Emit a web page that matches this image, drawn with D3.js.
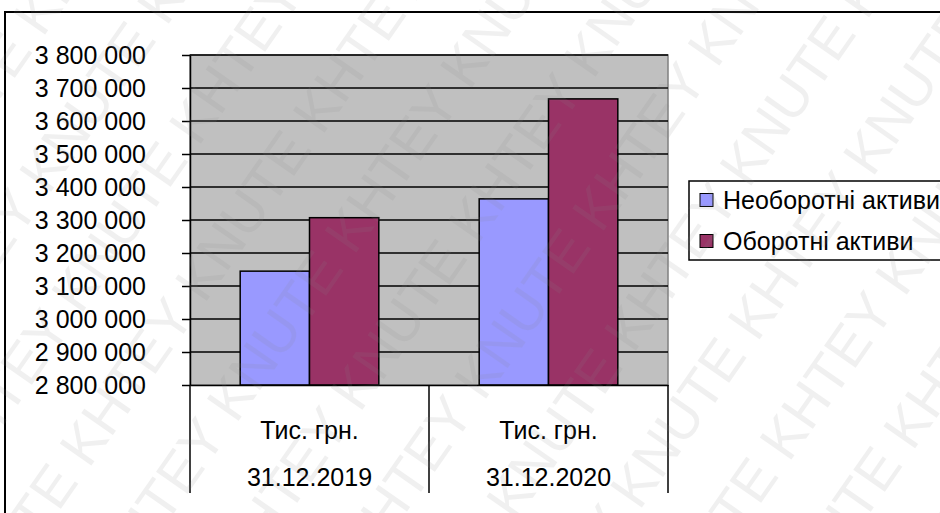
<!DOCTYPE html>
<html>
<head>
<meta charset="utf-8">
<script src="https://cdn.jsdelivr.net/npm/d3@7"></script>
<style>
  body { margin: 0; background: #fff; }
  svg text { font-family: "Liberation Sans", Arial, sans-serif; }
</style>
</head>
<body>
<div id="chart"></div>
<script>
(function() {
  // data (тис. грн.)
  var dates = ["31.12.2019", "31.12.2020"];
  var unitLabels = ["Тис. грн.", "Тис. грн."];
  var seriesNames = ["Необоротні активи", "Оборотні активи"];
  var nonCurrent = [3145000, 3364000];
  var current = [3307000, 3667000];
  var seriesColors = ["#9999ff", "#993366"];
  var yTicks = [2800000, 2900000, 3000000, 3100000, 3200000, 3300000,
                3400000, 3500000, 3600000, 3700000, 3800000];

  var W = 940, H = 513;
  var plot = { left: 190, top: 55, right: 668, bottom: 385 };

  var svg = d3.select("#chart").append("svg")
    .attr("width", W)
    .attr("height", H);

  // chart area border (runs off the right and bottom edges)
  svg.append("rect")
    .attr("x", 5).attr("y", 12)
    .attr("width", W + 20).attr("height", H + 20)
    .attr("fill", "#fff")
    .attr("stroke", "#000")
    .attr("stroke-width", 2);

  var rows = dates.map(function(d, i) {
    return { date: d, unit: unitLabels[i], values: [nonCurrent[i], current[i]] };
  });

  var xScale = d3.scaleBand().domain(dates).range([plot.left, plot.right]).padding(0);
  var bw = xScale.bandwidth();
  var xInner = d3.scaleBand().domain(seriesNames).range([bw * 0.21, bw * 0.79]).padding(0);
  var yScale = d3.scaleLinear().domain([2800000, 3800000]).range([plot.bottom, plot.top]);

  // gray plot area
  svg.append("rect")
    .attr("x", plot.left).attr("y", plot.top)
    .attr("width", plot.right - plot.left).attr("height", plot.bottom - plot.top)
    .attr("fill", "#c0c0c0")
    .attr("stroke", "#808080")
    .attr("stroke-width", 1.5);

  // gridlines
  svg.append("g")
    .selectAll("line")
    .data(yTicks.slice(1))
    .enter().append("line")
      .attr("x1", plot.left).attr("x2", plot.right)
      .attr("y1", function(d) { return yScale(d); })
      .attr("y2", function(d) { return yScale(d); })
      .attr("stroke", "#000")
      .attr("stroke-width", 1.5);

  // bars
  var groups = svg.append("g").selectAll("g")
    .data(rows)
    .enter().append("g")
      .attr("transform", function(d) { return "translate(" + xScale(d.date) + ",0)"; });

  groups.selectAll("rect")
    .data(function(d) {
      return d.values.map(function(v, j) { return { name: seriesNames[j], value: v, color: seriesColors[j] }; });
    })
    .enter().append("rect")
      .attr("x", function(d) { return xInner(d.name); })
      .attr("width", xInner.bandwidth())
      .attr("y", function(d) { return yScale(d.value); })
      .attr("height", function(d) { return plot.bottom - yScale(d.value); })
      .attr("fill", function(d) { return d.color; })
      .attr("stroke", "#000")
      .attr("stroke-width", 1.5);

  // y axis
  var fmt = function(d) { return d3.format(",")(d).replace(/,/g, " "); };
  var yAxis = d3.axisLeft(yScale)
    .tickValues(yTicks)
    .tickFormat(fmt)
    .tickSize(8)
    .tickSizeOuter(0)
    .tickPadding(36);
  var yg = svg.append("g")
    .attr("class", "axis y-axis")
    .attr("transform", "translate(" + plot.left + ",0)")
    .call(yAxis);
  yg.selectAll("line, path").attr("stroke", "#000").attr("stroke-width", 1.5);
  yg.selectAll("text")
    .attr("fill", "#000")
    .style("font-size", "25px");

  // x axis with two-level category labels
  var xAxis = d3.axisBottom(xScale).tickSize(0).tickSizeOuter(0).tickFormat(function() { return ""; });
  var xg = svg.append("g")
    .attr("class", "axis x-axis")
    .attr("transform", "translate(0," + plot.bottom + ")")
    .call(xAxis);
  xg.select("path").attr("stroke", "#000").attr("stroke-width", 1.5);

  var dividers = [plot.left].concat(dates.map(function(d) { return xScale(d) + bw; }));
  xg.selectAll(".divider")
    .data(dividers)
    .enter().append("line")
      .attr("class", "divider")
      .attr("x1", function(d) { return d; }).attr("x2", function(d) { return d; })
      .attr("y1", 0).attr("y2", 108)
      .attr("stroke", "#000")
      .attr("stroke-width", 1.5);

  xg.selectAll(".unit")
    .data(rows)
    .enter().append("text")
      .attr("class", "unit")
      .attr("x", function(d) { return xScale(d.date) + bw / 2; })
      .attr("y", 45)
      .attr("dy", "0.35em")
      .attr("text-anchor", "middle")
      .attr("fill", "#000")
      .style("font-size", "25px")
      .text(function(d) { return d.unit; });

  xg.selectAll(".date")
    .data(rows)
    .enter().append("text")
      .attr("class", "date")
      .attr("x", function(d) { return xScale(d.date) + bw / 2; })
      .attr("y", 92)
      .attr("dy", "0.35em")
      .attr("text-anchor", "middle")
      .attr("fill", "#000")
      .style("font-size", "25px")
      .text(function(d) { return d.date; });

  // legend
  var legend = svg.append("g").attr("transform", "translate(689,181)");
  legend.append("rect")
    .attr("x", 0).attr("y", 0)
    .attr("width", 300).attr("height", 79)
    .attr("fill", "#fff")
    .attr("stroke", "#000")
    .attr("stroke-width", 1.5);

  var items = legend.selectAll(".item")
    .data(seriesNames)
    .enter().append("g")
      .attr("class", "item")
      .attr("transform", function(d, i) { return "translate(0," + (19 + i * 41) + ")"; });
  items.append("rect")
    .attr("x", 11).attr("y", -6.5)
    .attr("width", 13).attr("height", 13)
    .attr("fill", function(d, i) { return seriesColors[i]; })
    .attr("stroke", "#000")
    .attr("stroke-width", 1);
  items.append("text")
    .attr("x", 34)
    .attr("dy", "0.35em")
    .attr("fill", "#000")
    .style("font-size", "25px")
    .text(function(d) { return d; });

  // faint site watermark over the whole picture
  var wm = svg.append("g")
    .attr("pointer-events", "none")
    .attr("transform", "translate(470,256) rotate(-55)");
  d3.range(-6, 7).forEach(function(r) {
    wm.append("text")
      .attr("x", -800 + (r % 2) * 80)
      .attr("y", r * 95)
      .attr("fill", "#888")
      .attr("opacity", 0.12)
      .style("font-size", "56px")
      .text(d3.range(6).map(function() { return "KHTEY KNUTE"; }).join(" "));
  });
})();
</script>
</body>
</html>
